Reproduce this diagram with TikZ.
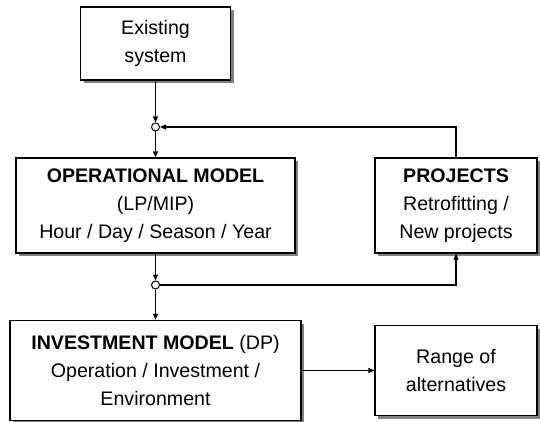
\documentclass[tikz,border=0pt]{standalone}
\usepackage{fontspec}
\setmainfont{Liberation Sans}
\usepackage{tikz}
\usetikzlibrary{positioning,arrows.meta,shadows}

\begin{document}
\begin{tikzpicture}[x=1pt, y=-1pt, font=\fontsize{19.6}{28.3}\selectfont,
    box/.style={draw, line width=1.2pt, fill=white, align=center, inner sep=0pt,
      drop shadow={shadow xshift=3pt, shadow yshift=-3pt, fill=black!50, opacity=1}},
    junc/.style={circle, draw, line width=1pt, fill=white, inner sep=0pt, minimum size=8pt},
    arr/.style={line width=1.2pt, -{Triangle[length=6pt, width=5pt]}}]
  \useasboundingbox (0,0) rectangle (540,422);
  % boxes
  \node[box, minimum width=150pt, minimum height=73pt] (exist) at (155.5,43.5) {Existing\\ system};
  \node[box, minimum width=279pt, minimum height=95pt] (op) at (155.5,205.5)
    {\textbf{OPERATIONAL MODEL}\\ (LP/MIP)\\ Hour / Day / Season / Year};
  \node[box, minimum width=162pt, minimum height=95pt] (proj) at (456,205.5)
    {\textbf{PROJECTS}\\ Retrofitting /\\ New projects};
  \node[box, minimum width=291pt, minimum height=100pt] (inv) at (155.5,370.5)
    {\textbf{INVESTMENT MODEL} (DP)\\ Operation / Investment /\\ Environment};
  \node[box, minimum width=162pt, minimum height=90pt] (range) at (456,370.5)
    {Range of\\ alternatives};
  % junctions
  \node[junc] (j1) at (155.5,127) {};
  \node[junc] (j2) at (155.5,285) {};
  % connectors
  \draw[arr] (exist) -- (j1);
  \draw[arr] (j1) -- (op);
  \draw[arr] (proj.north) |- (j1);
  \draw[arr] (op) -- (j2);
  \draw[arr] (j2) -| (proj.south);
  \draw[arr] (j2) -- (inv);
  \draw[arr] (inv) -- (range);
\end{tikzpicture}
\end{document}
